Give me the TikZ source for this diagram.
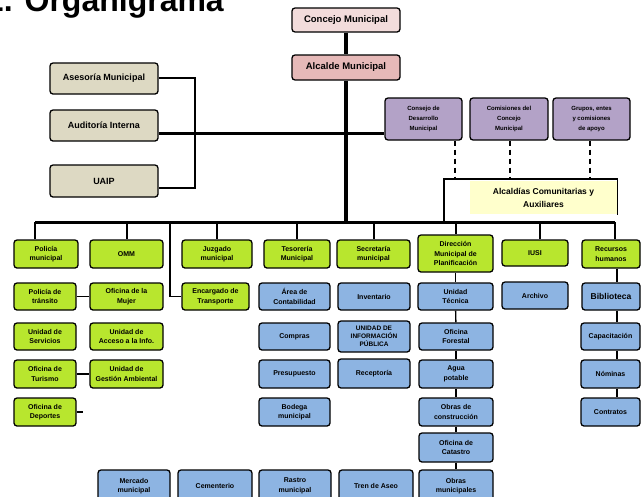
\documentclass[tikz,border=0pt]{standalone}
\usepackage{fontspec}
\setmainfont{Liberation Sans}
\definecolor{cpink}{HTML}{F2DCDB}
\definecolor{crose}{HTML}{E6B9B8}
\definecolor{cbeige}{HTML}{DDD9C3}
\definecolor{cpurple}{HTML}{B3A2C7}
\definecolor{cyellow}{HTML}{FFFFCC}
\definecolor{cgreen}{HTML}{B8E62E}
\definecolor{cblue}{HTML}{8DB4E2}
\newcommand\obox[7]{\node[box,#6,minimum width={(#4-#2)*1pt},minimum height={(#5-#3)*1pt}] (#1) at ({(#2+#4)/2},{(#3+#5)/2}) {#7};}
\newcommand\fs[2]{\fontsize{#1}{#2}\selectfont}
\begin{document}
\begin{tikzpicture}[x=1pt,y=-1pt,
  box/.style={draw=black, line width=1.3pt, rounded corners=3pt, align=center, inner sep=1pt,
    font=\bfseries\fs{7}{9.5}},
  pinkbox/.style={fill=cpink, font=\bfseries\fs{9.5}{11}},
  rosebox/.style={fill=crose, font=\bfseries\fs{9.5}{11}},
  beigebox/.style={fill=cbeige, font=\bfseries\fs{9}{11}},
  purplebox/.style={fill=cpurple, font=\bfseries\fs{6}{10}},
  yellowbox/.style={fill=cyellow, draw=none, rounded corners=0pt, font=\bfseries\fs{8.5}{13}},
  gbox/.style={fill=cgreen},
  bbox/.style={fill=cblue},
  trunk/.style={line width=3.5pt},
  bus/.style={line width=3pt},
  drop/.style={line width=2pt},
  thin/.style={line width=1.4pt},
  dashline/.style={line width=1.4pt, dash pattern=on 5pt off 4pt}]
\useasboundingbox (0,0) rectangle (642,496);
\node[anchor=base east, inner sep=0pt, font=\bfseries\fs{32}{32}] (title) at (224,11) {2. Organigrama};
% top
\obox{concejo}{292}{8}{400}{32}{pinkbox}{Concejo Municipal}
\obox{alcalde}{292}{55}{400}{80}{rosebox}{Alcalde Municipal}
% beige
\obox{asesoria}{50}{63}{158}{94}{beigebox}{Asesoría Municipal}
\obox{auditoria}{50}{110}{158}{141}{beigebox}{Auditoría Interna}
\obox{uaip}{50}{165}{158}{197}{beigebox}{UAIP}
% purple
\obox{comude}{385}{98}{462}{140}{purplebox}{Consejo de\\Desarrollo\\Municipal}
\obox{comision}{470}{98}{548}{140}{purplebox}{Comisiones del\\Concejo\\Municipal}
\obox{grupos}{553}{98}{630}{140}{purplebox}{Grupos, entes\\y comisiones\\de apoyo}
\obox{auxiliares}{470}{181}{617}{214}{yellowbox}{Alcaldías Comunitarias y\\Auxiliares}
% coordinates
\coordinate (busy) at (0,222);
\coordinate (midy) at (0,133);
\coordinate (framey) at (0,179);
\coordinate (y1) at (0,78);
\coordinate (y3) at (0,188);
\coordinate (fl) at (444,222);
\coordinate (br) at (195,0);
\coordinate (c3) at (170,222);
\coordinate (x1) at (35,0);
\coordinate (x7) at (540,0);
\coordinate (x8) at (615,0);
\coordinate (ch8) at (617,0);
\coordinate (dsh1) at (455,0);
\coordinate (dsh2) at (510,0);
\coordinate (dsh3) at (590,0);
% top row
\obox{g1}{14}{240}{78}{268}{gbox}{Policía\\municipal}
\obox{g2}{90}{240}{163}{268}{gbox}{OMM}
\obox{g3}{182}{240}{252}{268}{gbox}{Juzgado\\municipal}
\obox{g4}{264}{240}{330}{268}{gbox}{Tesorería\\Municipal}
\obox{g5}{337}{240}{410}{268}{gbox}{Secretaría\\municipal}
\obox{g6}{418}{235}{493}{272}{gbox}{Dirección\\Municipal de\\Planificación}
\obox{g7}{502}{240}{568}{266}{gbox}{IUSI}
\obox{g8}{582}{240}{640}{268}{gbox}{Recursos\\humanos}
% row 2
\obox{a1}{14}{283}{76}{310}{gbox}{Policía de\\tránsito}
\obox{a2}{90}{283}{163}{310}{gbox}{Oficina de la\\Mujer}
\obox{a3}{182}{283}{249}{310}{gbox}{Encargado de\\Transporte}
\obox{a4}{259}{283}{330}{310}{bbox}{Área de\\Contabilidad}
\obox{a5}{338}{283}{410}{310}{bbox}{Inventario}
\obox{a6}{418}{283}{493}{310}{bbox}{Unidad\\Técnica}
\obox{a7}{502}{282}{568}{309}{bbox}{Archivo}
\obox{a8}{582}{283}{640}{310}{bbox,font=\bfseries\fs{8.5}{10}}{Biblioteca}
% row 3
\obox{b1}{14}{323}{76}{350}{gbox}{Unidad de\\Servicios}
\obox{b2}{90}{323}{163}{350}{gbox}{Unidad de\\Acceso a la Info.}
\obox{b4}{259}{323}{330}{350}{bbox}{Compras}
\obox{b5}{338}{321}{410}{352}{bbox,font=\bfseries\fs{6.5}{8}}{UNIDAD DE\\INFORMACIÓN\\PÚBLICA}
\obox{b6}{419}{323}{493}{350}{bbox}{Oficina\\Forestal}
\obox{b8}{581}{323}{640}{350}{bbox}{Capacitación}
% row 4
\obox{d1}{14}{360}{76}{388}{gbox}{Oficina de\\Turismo}
\obox{d2}{90}{360}{163}{388}{gbox}{Unidad de\\Gestión Ambiental}
\obox{d4}{259}{360}{330}{388}{bbox}{Presupuesto}
\obox{d5}{338}{359}{410}{388}{bbox}{Receptoría}
\obox{d6}{419}{360}{493}{388}{bbox}{Agua\\potable}
\obox{d8}{581}{360}{640}{388}{bbox}{Nóminas}
% row 5
\obox{e1}{14}{398}{76}{426}{gbox}{Oficina de\\Deportes}
\obox{e4}{259}{398}{330}{426}{bbox}{Bodega\\municipal}
\obox{e6}{419}{398}{493}{426}{bbox}{Obras de\\construcción}
\obox{e8}{581}{398}{640}{426}{bbox}{Contratos}
% row 6
\obox{f6}{419}{433}{493}{462}{bbox}{Oficina de\\Catastro}
% row 7
\obox{h1}{98}{470}{170}{502}{bbox}{Mercado\\municipal}
\obox{h2}{178}{470}{252}{502}{bbox}{Cementerio}
\obox{h3}{259}{470}{331}{502}{bbox}{Rastro\\municipal}
\obox{h4}{339}{470}{413}{502}{bbox}{Tren de Aseo}
\obox{h5}{419}{470}{493}{502}{bbox}{Obras\\municipales}
% connectors top
\draw[trunk] (concejo) -- (alcalde);
\draw[trunk] (alcalde.south) -- (alcalde.south |- busy);
\draw[line width=3pt] (auditoria.east |- midy) -- (comude.west |- midy);
\draw[thin] (asesoria.east |- y1) -| (br |- y3) -- (uaip.east |- y3);
\draw[dashline] (dsh1 |- comude.south) -- (dsh1 |- framey);
\draw[dashline] (dsh2 |- comision.south) -- (dsh2 |- framey);
\draw[dashline] (dsh3 |- grupos.south) -- (dsh3 |- framey);
\draw[thin] (fl) -- (fl |- framey) -- (auxiliares.east |- framey) -- (auxiliares.south east);
\draw[bus] (x1 |- busy) -- (x8 |- busy);
\draw[drop] (x1 |- busy) -- (x1 |- g1.north);
\foreach \n in {g2,g3,g4,g5,g6} {\draw[drop] (\n.north |- busy) -- (\n.north);}
\draw[drop] (x7 |- busy) -- (x7 |- g7.north);
\draw[drop] (x8 |- busy) -- (x8 |- g8.north);
\draw[thin] (c3) |- (a3.west);
% chains
\draw[thin] (a1) -- (a2);
\draw[thin] (d1) -- (d2);
\draw[thin] (e1.east) -- ++(6,0);
\draw[thin] (g6) -- (a6);
\draw[thin] (a6) -- (b6);
\draw[thin] (b6) -- (d6);
\draw[thin] (d6) -- (e6);
\draw[thin] (e6) -- (f6);
\draw[thin] (f6) -- (h5);
\draw[thin] (ch8 |- g8.south) -- (ch8 |- a8.north);
\draw[thin] (ch8 |- a8.south) -- (ch8 |- b8.north);
\draw[thin] (ch8 |- b8.south) -- (ch8 |- d8.north);
\draw[thin] (ch8 |- d8.south) -- (ch8 |- e8.north);
\end{tikzpicture}
\end{document}
